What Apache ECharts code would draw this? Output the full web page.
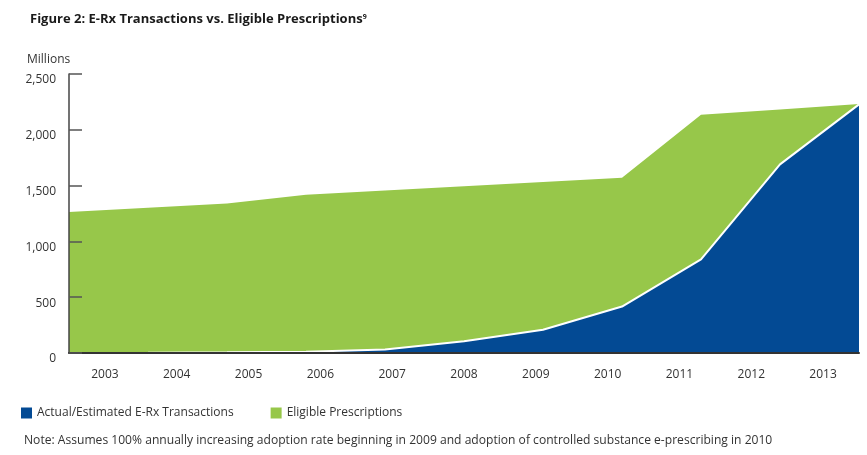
<!DOCTYPE html>
<html>
<head>
<meta charset="utf-8">
<style>html,body{margin:0;padding:0;background:#fff}#c{width:867px;height:455px}</style>
<script src="https://cdn.jsdelivr.net/npm/echarts@6/dist/echarts.min.js"></script>
</head>
<body>
<div id="c"></div>
<script>
const years = ['2003','2004','2005','2006','2007','2008','2009','2010','2011','2012','2013'];
const erxTransactions = [1, 3, 6, 12, 32, 105, 208, 416, 839, 1690, 2228];
const eligiblePrescriptions = [1264, 1302, 1340, 1418, 1455, 1494, 1532, 1571, 2134, 2182, 2232];
const yTicks = [0, 500, 1000, 1500, 2000, 2500];

const BLUE = '#034a94';
const GREEN = '#97c74a';
const FONT = 'Open Sans';

const chart = echarts.init(document.getElementById('c'));
chart.setOption({
  animation: false,
  textStyle: { fontFamily: FONT },
  title: [{
    text: '{t|Figure 2: E-Rx Transactions vs. Eligible Prescriptions}{s|9}',
    left: 25, top: 8,
    textStyle: {
      rich: {
        t: { fontFamily: FONT, fontWeight: 'bold', fontSize: 13, color: '#1a1a1a' },
        s: { fontFamily: FONT, fontSize: 7, color: '#1a1a1a', verticalAlign: 'top', padding: [0, 0, 6, 0] }
      }
    }
  }, {
    text: 'Millions', left: 22, top: 49,
    textStyle: { fontFamily: FONT, fontSize: 12, fontWeight: 'normal', color: '#333' }
  }, {
    text: 'Note: Assumes 100% annually increasing adoption rate beginning in 2009 and adoption of controlled substance e-prescribing in 2010',
    left: 19, top: 430,
    textStyle: { fontFamily: FONT, fontSize: 12.1, fontWeight: 'normal', color: '#333' }
  }],
  legend: {
    left: 16, top: 402,
    icon: 'rect', itemWidth: 11, itemHeight: 11, itemGap: 37, itemTextGap: 9,
    textStyle: { fontFamily: FONT, fontSize: 12, color: '#333' },
    data: ['Actual/Estimated E-Rx Transactions', 'Eligible Prescriptions']
  },
  grid: { left: 69, right: 8, top: 74, bottom: 102, containLabel: false },
  xAxis: [{
    type: 'category', data: years, boundaryGap: true,
    axisLine: { lineStyle: { color: '#333', width: 2 } },
    axisTick: { inside: true, length: 7, lineStyle: { color: '#222', width: 1 } },
    axisLabel: { margin: 16, fontSize: 12, color: '#333', fontFamily: FONT },
    z: 10
  }, {
    type: 'category', data: years, boundaryGap: false, show: false
  }],
  yAxis: {
    type: 'value', min: 0, max: 2500, interval: 500,
    axisLine: { show: true, lineStyle: { color: '#444', width: 1.5 } },
    axisTick: { show: true, inside: true, length: 13, lineStyle: { color: '#555', width: 1.5 } },
    splitLine: { show: false },
    axisLabel: {
      margin: 13, fontSize: 12, color: '#333', fontFamily: FONT, verticalAlign: 'top',
      formatter: v => yTicks.includes(v) ? v.toLocaleString('en-US') : ''
    },
    z: 10
  },
  series: [{
    name: 'Eligible Prescriptions', type: 'line', xAxisIndex: 1,
    data: eligiblePrescriptions, symbol: 'none',
    lineStyle: { width: 0, color: GREEN }, itemStyle: { color: GREEN },
    areaStyle: { color: GREEN, opacity: 1 }, z: 2
  }, {
    name: 'Actual/Estimated E-Rx Transactions', type: 'line', xAxisIndex: 1,
    data: erxTransactions, symbol: 'none',
    lineStyle: { width: 2, color: '#fff' }, itemStyle: { color: BLUE },
    areaStyle: { color: BLUE, opacity: 1 }, z: 3
  }]
});
</script>
</body>
</html>
